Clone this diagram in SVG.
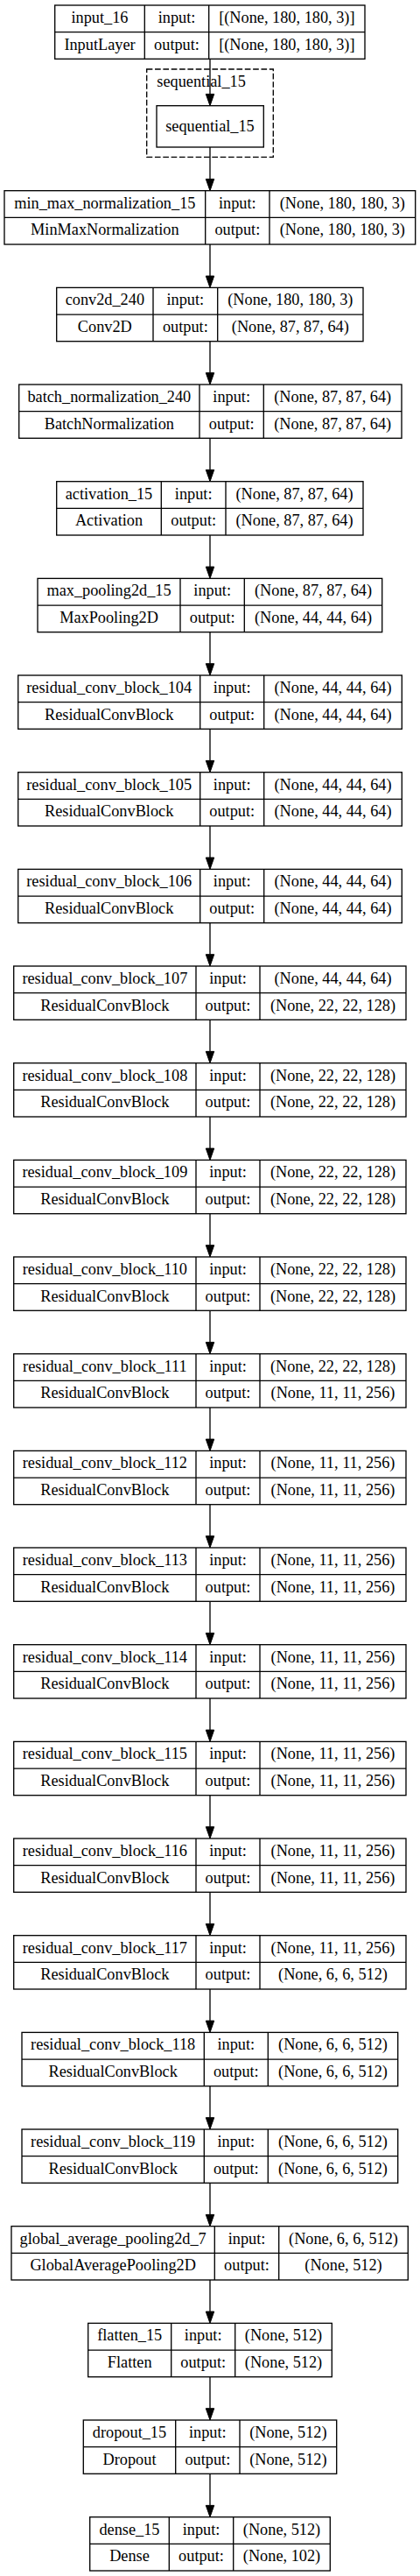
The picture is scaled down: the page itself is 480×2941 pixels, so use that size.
<svg xmlns="http://www.w3.org/2000/svg" width="480" height="2941" viewBox="0 0 480 2941">
<style>
text{font-family:"Liberation Serif","Times New Roman",serif;font-size:18.3px;fill:#000;text-anchor:middle}
.b{fill:#fff;stroke:#000;stroke-width:1.33}
.l{stroke:#000;stroke-width:1.33;fill:none}
.e{stroke:#000;stroke-width:1.33;fill:none;marker-end:url(#ah)}
.cl{fill:none;stroke:#000;stroke-width:1.33;stroke-dasharray:6.67,2.67}
</style>
<defs>
<marker id="ah" markerUnits="userSpaceOnUse" markerWidth="14" markerHeight="10" refX="0" refY="4.7" orient="auto" overflow="visible">
<path d="M0,0 L13.3,4.7 L0,9.4 Z" fill="#000" stroke="#000" stroke-width="1"/>
</marker>
</defs>
<rect width="480" height="2941" fill="#fff"/>
<g id="connectors">
<line class="e" x1="240" y1="67.3" x2="240" y2="107.4"/>
<line class="e" x1="240" y1="168" x2="240" y2="204.4"/>
<line class="e" x1="240" y1="279" x2="240" y2="315.1"/>
<line class="e" x1="240" y1="389.7" x2="240" y2="425.7"/>
<line class="e" x1="240" y1="500.3" x2="240" y2="536.4"/>
<line class="e" x1="240" y1="611" x2="240" y2="647.1"/>
<line class="e" x1="240" y1="721.7" x2="240" y2="757.7"/>
<line class="e" x1="240" y1="832.3" x2="240" y2="868.4"/>
<line class="e" x1="240" y1="943" x2="240" y2="979.1"/>
<line class="e" x1="240" y1="1053.7" x2="240" y2="1089.7"/>
<line class="e" x1="240" y1="1164.3" x2="240" y2="1200.4"/>
<line class="e" x1="240" y1="1275" x2="240" y2="1311.1"/>
<line class="e" x1="240" y1="1385.7" x2="240" y2="1421.7"/>
<line class="e" x1="240" y1="1496.3" x2="240" y2="1532.4"/>
<line class="e" x1="240" y1="1607" x2="240" y2="1643.1"/>
<line class="e" x1="240" y1="1717.7" x2="240" y2="1753.7"/>
<line class="e" x1="240" y1="1828.3" x2="240" y2="1864.4"/>
<line class="e" x1="240" y1="1939" x2="240" y2="1975.1"/>
<line class="e" x1="240" y1="2049.7" x2="240" y2="2085.7"/>
<line class="e" x1="240" y1="2160.3" x2="240" y2="2196.4"/>
<line class="e" x1="240" y1="2271" x2="240" y2="2307.1"/>
<line class="e" x1="240" y1="2381.7" x2="240" y2="2417.7"/>
<line class="e" x1="240" y1="2492.3" x2="240" y2="2528.4"/>
<line class="e" x1="240" y1="2603" x2="240" y2="2639.1"/>
<line class="e" x1="240" y1="2713.7" x2="240" y2="2749.7"/>
<line class="e" x1="240" y1="2824.3" x2="240" y2="2860.4"/>
</g>
<g id="cluster_sequential_15">
<rect class="cl" x="167.7" y="79" width="144.6" height="100.3"/>
<text x="179.3" y="99" style="text-anchor:start">sequential_15</text>
</g>
<g id="input_16" transform="translate(0,6)">
<rect class="b" x="62.7" y="0" width="354.3" height="61.3"/>
<path class="l" d="M62.7,30.7H417M165.3,0V61.3M238.7,0V61.3"/>
<text x="114" y="20">input_16</text><text x="202" y="20">input:</text><text x="327.85" y="20">[(None, 180, 180, 3)]</text>
<text x="114" y="50.7">InputLayer</text><text x="202" y="50.7">output:</text><text x="327.85" y="50.7">[(None, 180, 180, 3)]</text>
</g>
<g id="sequential_15">
<rect class="b" x="179" y="120.7" width="122.3" height="47.3"/>
<text x="240" y="150">sequential_15</text>
</g>
<g id="min_max_normalization_15" transform="translate(0,217.7)">
<rect class="b" x="5" y="0" width="469.7" height="61.3"/>
<path class="l" d="M5,30.7H474.7M234.7,0V61.3M308,0V61.3"/>
<text x="119.85" y="20">min_max_normalization_15</text><text x="271.35" y="20">input:</text><text x="391.35" y="20">(None, 180, 180, 3)</text>
<text x="119.85" y="50.7">MinMaxNormalization</text><text x="271.35" y="50.7">output:</text><text x="391.35" y="50.7">(None, 180, 180, 3)</text>
</g>
<g id="conv2d_240" transform="translate(0,328.4)">
<rect class="b" x="64.7" y="0" width="350.3" height="61.3"/>
<path class="l" d="M64.7,30.7H415M175,0V61.3M248.7,0V61.3"/>
<text x="119.85" y="20">conv2d_240</text><text x="211.85" y="20">input:</text><text x="331.85" y="20">(None, 180, 180, 3)</text>
<text x="119.85" y="50.7">Conv2D</text><text x="211.85" y="50.7">output:</text><text x="331.85" y="50.7">(None, 87, 87, 64)</text>
</g>
<g id="batch_normalization_240" transform="translate(0,439)">
<rect class="b" x="21.7" y="0" width="437.3" height="61.3"/>
<path class="l" d="M21.7,30.7H459M228,0V61.3M301.3,0V61.3"/>
<text x="124.85" y="20">batch_normalization_240</text><text x="264.65" y="20">input:</text><text x="380.15" y="20">(None, 87, 87, 64)</text>
<text x="124.85" y="50.7">BatchNormalization</text><text x="264.65" y="50.7">output:</text><text x="380.15" y="50.7">(None, 87, 87, 64)</text>
</g>
<g id="activation_15" transform="translate(0,549.7)">
<rect class="b" x="64.7" y="0" width="350.3" height="61.3"/>
<path class="l" d="M64.7,30.7H415M184.3,0V61.3M258,0V61.3"/>
<text x="124.5" y="20">activation_15</text><text x="221.15" y="20">input:</text><text x="336.5" y="20">(None, 87, 87, 64)</text>
<text x="124.5" y="50.7">Activation</text><text x="221.15" y="50.7">output:</text><text x="336.5" y="50.7">(None, 87, 87, 64)</text>
</g>
<g id="max_pooling2d_15" transform="translate(0,660.4)">
<rect class="b" x="43" y="0" width="393.7" height="61.3"/>
<path class="l" d="M43,30.7H436.7M206,0V61.3M279.3,0V61.3"/>
<text x="124.5" y="20">max_pooling2d_15</text><text x="242.65" y="20">input:</text><text x="358" y="20">(None, 87, 87, 64)</text>
<text x="124.5" y="50.7">MaxPooling2D</text><text x="242.65" y="50.7">output:</text><text x="358" y="50.7">(None, 44, 44, 64)</text>
</g>
<g id="residual_conv_block_104" transform="translate(0,771)">
<rect class="b" x="20.7" y="0" width="438.6" height="61.3"/>
<path class="l" d="M20.7,30.7H459.3M228.7,0V61.3M301.7,0V61.3"/>
<text x="124.7" y="20">residual_conv_block_104</text><text x="265.2" y="20">input:</text><text x="380.5" y="20">(None, 44, 44, 64)</text>
<text x="124.7" y="50.7">ResidualConvBlock</text><text x="265.2" y="50.7">output:</text><text x="380.5" y="50.7">(None, 44, 44, 64)</text>
</g>
<g id="residual_conv_block_105" transform="translate(0,881.7)">
<rect class="b" x="20.7" y="0" width="438.6" height="61.3"/>
<path class="l" d="M20.7,30.7H459.3M228.7,0V61.3M301.7,0V61.3"/>
<text x="124.7" y="20">residual_conv_block_105</text><text x="265.2" y="20">input:</text><text x="380.5" y="20">(None, 44, 44, 64)</text>
<text x="124.7" y="50.7">ResidualConvBlock</text><text x="265.2" y="50.7">output:</text><text x="380.5" y="50.7">(None, 44, 44, 64)</text>
</g>
<g id="residual_conv_block_106" transform="translate(0,992.4)">
<rect class="b" x="20.7" y="0" width="438.6" height="61.3"/>
<path class="l" d="M20.7,30.7H459.3M228.7,0V61.3M301.7,0V61.3"/>
<text x="124.7" y="20">residual_conv_block_106</text><text x="265.2" y="20">input:</text><text x="380.5" y="20">(None, 44, 44, 64)</text>
<text x="124.7" y="50.7">ResidualConvBlock</text><text x="265.2" y="50.7">output:</text><text x="380.5" y="50.7">(None, 44, 44, 64)</text>
</g>
<g id="residual_conv_block_107" transform="translate(0,1103)">
<rect class="b" x="15.7" y="0" width="448.3" height="61.3"/>
<path class="l" d="M15.7,30.7H464M224,0V61.3M297,0V61.3"/>
<text x="119.85" y="20">residual_conv_block_107</text><text x="260.5" y="20">input:</text><text x="380.5" y="20">(None, 44, 44, 64)</text>
<text x="119.85" y="50.7">ResidualConvBlock</text><text x="260.5" y="50.7">output:</text><text x="380.5" y="50.7">(None, 22, 22, 128)</text>
</g>
<g id="residual_conv_block_108" transform="translate(0,1213.7)">
<rect class="b" x="15.7" y="0" width="448.3" height="61.3"/>
<path class="l" d="M15.7,30.7H464M224,0V61.3M297,0V61.3"/>
<text x="119.85" y="20">residual_conv_block_108</text><text x="260.5" y="20">input:</text><text x="380.5" y="20">(None, 22, 22, 128)</text>
<text x="119.85" y="50.7">ResidualConvBlock</text><text x="260.5" y="50.7">output:</text><text x="380.5" y="50.7">(None, 22, 22, 128)</text>
</g>
<g id="residual_conv_block_109" transform="translate(0,1324.4)">
<rect class="b" x="15.7" y="0" width="448.3" height="61.3"/>
<path class="l" d="M15.7,30.7H464M224,0V61.3M297,0V61.3"/>
<text x="119.85" y="20">residual_conv_block_109</text><text x="260.5" y="20">input:</text><text x="380.5" y="20">(None, 22, 22, 128)</text>
<text x="119.85" y="50.7">ResidualConvBlock</text><text x="260.5" y="50.7">output:</text><text x="380.5" y="50.7">(None, 22, 22, 128)</text>
</g>
<g id="residual_conv_block_110" transform="translate(0,1435)">
<rect class="b" x="15.7" y="0" width="448.3" height="61.3"/>
<path class="l" d="M15.7,30.7H464M224,0V61.3M297,0V61.3"/>
<text x="119.85" y="20">residual_conv_block_110</text><text x="260.5" y="20">input:</text><text x="380.5" y="20">(None, 22, 22, 128)</text>
<text x="119.85" y="50.7">ResidualConvBlock</text><text x="260.5" y="50.7">output:</text><text x="380.5" y="50.7">(None, 22, 22, 128)</text>
</g>
<g id="residual_conv_block_111" transform="translate(0,1545.7)">
<rect class="b" x="15.7" y="0" width="448.3" height="61.3"/>
<path class="l" d="M15.7,30.7H464M224,0V61.3M297,0V61.3"/>
<text x="119.85" y="20">residual_conv_block_111</text><text x="260.5" y="20">input:</text><text x="380.5" y="20">(None, 22, 22, 128)</text>
<text x="119.85" y="50.7">ResidualConvBlock</text><text x="260.5" y="50.7">output:</text><text x="380.5" y="50.7">(None, 11, 11, 256)</text>
</g>
<g id="residual_conv_block_112" transform="translate(0,1656.4)">
<rect class="b" x="15.7" y="0" width="448.3" height="61.3"/>
<path class="l" d="M15.7,30.7H464M224,0V61.3M297,0V61.3"/>
<text x="119.85" y="20">residual_conv_block_112</text><text x="260.5" y="20">input:</text><text x="380.5" y="20">(None, 11, 11, 256)</text>
<text x="119.85" y="50.7">ResidualConvBlock</text><text x="260.5" y="50.7">output:</text><text x="380.5" y="50.7">(None, 11, 11, 256)</text>
</g>
<g id="residual_conv_block_113" transform="translate(0,1767)">
<rect class="b" x="15.7" y="0" width="448.3" height="61.3"/>
<path class="l" d="M15.7,30.7H464M224,0V61.3M297,0V61.3"/>
<text x="119.85" y="20">residual_conv_block_113</text><text x="260.5" y="20">input:</text><text x="380.5" y="20">(None, 11, 11, 256)</text>
<text x="119.85" y="50.7">ResidualConvBlock</text><text x="260.5" y="50.7">output:</text><text x="380.5" y="50.7">(None, 11, 11, 256)</text>
</g>
<g id="residual_conv_block_114" transform="translate(0,1877.7)">
<rect class="b" x="15.7" y="0" width="448.3" height="61.3"/>
<path class="l" d="M15.7,30.7H464M224,0V61.3M297,0V61.3"/>
<text x="119.85" y="20">residual_conv_block_114</text><text x="260.5" y="20">input:</text><text x="380.5" y="20">(None, 11, 11, 256)</text>
<text x="119.85" y="50.7">ResidualConvBlock</text><text x="260.5" y="50.7">output:</text><text x="380.5" y="50.7">(None, 11, 11, 256)</text>
</g>
<g id="residual_conv_block_115" transform="translate(0,1988.4)">
<rect class="b" x="15.7" y="0" width="448.3" height="61.3"/>
<path class="l" d="M15.7,30.7H464M224,0V61.3M297,0V61.3"/>
<text x="119.85" y="20">residual_conv_block_115</text><text x="260.5" y="20">input:</text><text x="380.5" y="20">(None, 11, 11, 256)</text>
<text x="119.85" y="50.7">ResidualConvBlock</text><text x="260.5" y="50.7">output:</text><text x="380.5" y="50.7">(None, 11, 11, 256)</text>
</g>
<g id="residual_conv_block_116" transform="translate(0,2099)">
<rect class="b" x="15.7" y="0" width="448.3" height="61.3"/>
<path class="l" d="M15.7,30.7H464M224,0V61.3M297,0V61.3"/>
<text x="119.85" y="20">residual_conv_block_116</text><text x="260.5" y="20">input:</text><text x="380.5" y="20">(None, 11, 11, 256)</text>
<text x="119.85" y="50.7">ResidualConvBlock</text><text x="260.5" y="50.7">output:</text><text x="380.5" y="50.7">(None, 11, 11, 256)</text>
</g>
<g id="residual_conv_block_117" transform="translate(0,2209.7)">
<rect class="b" x="15.7" y="0" width="448.3" height="61.3"/>
<path class="l" d="M15.7,30.7H464M224,0V61.3M297,0V61.3"/>
<text x="119.85" y="20">residual_conv_block_117</text><text x="260.5" y="20">input:</text><text x="380.5" y="20">(None, 11, 11, 256)</text>
<text x="119.85" y="50.7">ResidualConvBlock</text><text x="260.5" y="50.7">output:</text><text x="380.5" y="50.7">(None, 6, 6, 512)</text>
</g>
<g id="residual_conv_block_118" transform="translate(0,2320.4)">
<rect class="b" x="25" y="0" width="429.7" height="61.3"/>
<path class="l" d="M25,30.7H454.7M233.3,0V61.3M306.3,0V61.3"/>
<text x="129.15" y="20">residual_conv_block_118</text><text x="269.8" y="20">input:</text><text x="380.5" y="20">(None, 6, 6, 512)</text>
<text x="129.15" y="50.7">ResidualConvBlock</text><text x="269.8" y="50.7">output:</text><text x="380.5" y="50.7">(None, 6, 6, 512)</text>
</g>
<g id="residual_conv_block_119" transform="translate(0,2431)">
<rect class="b" x="25" y="0" width="429.7" height="61.3"/>
<path class="l" d="M25,30.7H454.7M233.3,0V61.3M306.3,0V61.3"/>
<text x="129.15" y="20">residual_conv_block_119</text><text x="269.8" y="20">input:</text><text x="380.5" y="20">(None, 6, 6, 512)</text>
<text x="129.15" y="50.7">ResidualConvBlock</text><text x="269.8" y="50.7">output:</text><text x="380.5" y="50.7">(None, 6, 6, 512)</text>
</g>
<g id="global_average_pooling2d_7" transform="translate(0,2541.7)">
<rect class="b" x="13" y="0" width="453.3" height="61.3"/>
<path class="l" d="M13,30.7H466.3M245.3,0V61.3M318.7,0V61.3"/>
<text x="129.15" y="20">global_average_pooling2d_7</text><text x="282" y="20">input:</text><text x="392.5" y="20">(None, 6, 6, 512)</text>
<text x="129.15" y="50.7">GlobalAveragePooling2D</text><text x="282" y="50.7">output:</text><text x="392.5" y="50.7">(None, 512)</text>
</g>
<g id="flatten_15" transform="translate(0,2652.4)">
<rect class="b" x="100.7" y="0" width="278.6" height="61.3"/>
<path class="l" d="M100.7,30.7H379.3M195.7,0V61.3M268.7,0V61.3"/>
<text x="148.2" y="20">flatten_15</text><text x="232.2" y="20">input:</text><text x="324" y="20">(None, 512)</text>
<text x="148.2" y="50.7">Flatten</text><text x="232.2" y="50.7">output:</text><text x="324" y="50.7">(None, 512)</text>
</g>
<g id="dropout_15" transform="translate(0,2763)">
<rect class="b" x="95.3" y="0" width="289.4" height="61.3"/>
<path class="l" d="M95.3,30.7H384.7M200.7,0V61.3M274,0V61.3"/>
<text x="148" y="20">dropout_15</text><text x="237.35" y="20">input:</text><text x="329.35" y="20">(None, 512)</text>
<text x="148" y="50.7">Dropout</text><text x="237.35" y="50.7">output:</text><text x="329.35" y="50.7">(None, 512)</text>
</g>
<g id="dense_15" transform="translate(0,2873.7)">
<rect class="b" x="102.7" y="0" width="274.6" height="61.3"/>
<path class="l" d="M102.7,30.7H377.3M193.3,0V61.3M266.7,0V61.3"/>
<text x="148" y="20">dense_15</text><text x="230" y="20">input:</text><text x="322" y="20">(None, 512)</text>
<text x="148" y="50.7">Dense</text><text x="230" y="50.7">output:</text><text x="322" y="50.7">(None, 102)</text>
</g>
</svg>
